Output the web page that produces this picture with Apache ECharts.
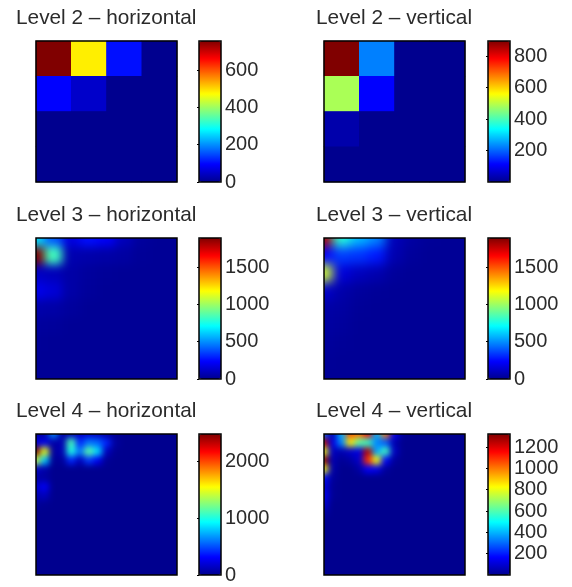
<!DOCTYPE html>
<html>
<head>
<meta charset="utf-8">
<style>
html, body { margin: 0; padding: 0; background: #fff; }
#wrap { position: relative; width: 572px; height: 587px; overflow: hidden; }
#main { position: absolute; left: 0; top: 0; width: 572px; height: 587px; }
.clip { position: absolute; overflow: hidden; }
.soft { position: absolute; }
</style>
<script src="https://cdn.jsdelivr.net/npm/echarts@6/dist/echarts.min.js"></script>
</head>
<body>
<div id="wrap"><div id="main"></div></div>
<script>
var titles = ['Level 2 – horizontal', 'Level 2 – vertical', 'Level 3 – horizontal', 'Level 3 – vertical', 'Level 4 – horizontal', 'Level 4 – vertical'];
var maxValues = [757, 896, 1892, 1892, 2478, 1323];
var tickLists = [
    [0, 200, 400, 600],
    [200, 400, 600, 800],
    [0, 500, 1000, 1500],
    [0, 500, 1000, 1500],
    [0, 1000, 2000],
    [200, 400, 600, 800, 1000, 1200]
];
var jet = ['#00008f', '#0000ff', '#0080ff', '#00ffff', '#80ff80', '#ffff00', '#ff8000', '#ff0000', '#800000'];
var jetLow = '#00008f';

var level2H = [
    [757, 485, 105, 0],
    [95, 50, 0, 0],
    [0, 0, 0, 0],
    [0, 0, 0, 0]
];
var level2V = [
    [896, 224, 0, 0],
    [485, 112, 0, 0],
    [28, 0, 0, 0],
    [0, 0, 0, 0]
];
var level3H = [
    [650, 400, 170, 260, 220, 90, 30, 15, 15],
    [1950, 830, 70, 60, 50, 40, 20, 15, 15],
    [110, 90, 50, 30, 20, 15, 15, 15, 15],
    [190, 150, 50, 25, 15, 15, 15, 15, 15],
    [60, 50, 30, 15, 15, 15, 15, 15, 15],
    [30, 25, 15, 15, 15, 15, 15, 15, 15],
    [20, 15, 15, 15, 15, 15, 15, 15, 15],
    [15, 15, 15, 15, 15, 15, 15, 15, 15],
    [15, 15, 15, 15, 15, 15, 15, 15, 15]
];
var level3V = [
    [1800, 780, 580, 480, 90, 40, 20, 15, 15],
    [240, 350, 330, 280, 70, 25, 15, 15, 15],
    [1100, 160, 100, 70, 25, 15, 15, 15, 15],
    [130, 60, 30, 20, 15, 15, 15, 15, 15],
    [50, 40, 20, 15, 15, 15, 15, 15, 15],
    [40, 30, 15, 15, 15, 15, 15, 15, 15],
    [30, 20, 15, 15, 15, 15, 15, 15, 15],
    [20, 15, 15, 15, 15, 15, 15, 15, 15],
    [15, 15, 15, 15, 15, 15, 15, 15, 15]
];
var level4H = [
    [60, 60, 650, 60, 120, 150, 180, 140, 60, 10, 0, 0, 0, 0, 0, 0, 0],
    [200, 250, 60, 100, 1100, 400, 600, 560, 400, 50, 0, 0, 0, 0, 0, 0, 0],
    [2500, 1500, 50, 100, 1000, 600, 1150, 850, 140, 10, 0, 0, 0, 0, 0, 0, 0],
    [1400, 800, 20, 30, 400, 120, 450, 280, 20, 0, 0, 0, 0, 0, 0, 0, 0],
    [150, 80, 0, 0, 0, 0, 0, 0, 0, 0, 0, 0, 0, 0, 0, 0, 0],
    [60, 50, 0, 0, 0, 0, 0, 0, 0, 0, 0, 0, 0, 0, 0, 0, 0],
    [170, 280, 0, 0, 0, 0, 0, 0, 0, 0, 0, 0, 0, 0, 0, 0, 0],
    [90, 130, 0, 0, 0, 0, 0, 0, 0, 0, 0, 0, 0, 0, 0, 0, 0],
    [30, 10, 0, 0, 0, 0, 0, 0, 0, 0, 0, 0, 0, 0, 0, 0, 0],
    [0, 0, 0, 0, 0, 0, 0, 0, 0, 0, 0, 0, 0, 0, 0, 0, 0],
    [0, 0, 0, 0, 0, 0, 0, 0, 0, 0, 0, 0, 0, 0, 0, 0, 0],
    [0, 0, 0, 0, 0, 0, 0, 0, 0, 0, 0, 0, 0, 0, 0, 0, 0],
    [0, 0, 0, 0, 0, 0, 0, 0, 0, 0, 0, 0, 0, 0, 0, 0, 0],
    [0, 0, 0, 0, 0, 0, 0, 0, 0, 0, 0, 0, 0, 0, 0, 0, 0],
    [0, 0, 0, 0, 0, 0, 0, 0, 0, 0, 0, 0, 0, 0, 0, 0, 0],
    [0, 0, 0, 0, 0, 0, 0, 0, 0, 0, 0, 0, 0, 0, 0, 0, 0],
    [0, 0, 0, 0, 0, 0, 0, 0, 0, 0, 0, 0, 0, 0, 0, 0, 0]
];
var level4V = [
    [300, 60, 400, 1050, 1000, 1150, 400, 1000, 150, 10, 0, 0, 0, 0, 0, 0, 0],
    [1250, 120, 340, 850, 620, 560, 340, 280, 50, 0, 0, 0, 0, 0, 0, 0, 0],
    [800, 70, 50, 90, 120, 1250, 380, 580, 80, 0, 0, 0, 0, 0, 0, 0, 0],
    [1300, 50, 10, 30, 90, 1100, 820, 170, 20, 0, 0, 0, 0, 0, 0, 0, 0],
    [820, 40, 0, 0, 30, 160, 140, 20, 0, 0, 0, 0, 0, 0, 0, 0, 0],
    [180, 20, 0, 0, 0, 0, 0, 0, 0, 0, 0, 0, 0, 0, 0, 0, 0],
    [120, 10, 0, 0, 0, 0, 0, 0, 0, 0, 0, 0, 0, 0, 0, 0, 0],
    [150, 10, 0, 0, 0, 0, 0, 0, 0, 0, 0, 0, 0, 0, 0, 0, 0],
    [100, 0, 0, 0, 0, 0, 0, 0, 0, 0, 0, 0, 0, 0, 0, 0, 0],
    [30, 0, 0, 0, 0, 0, 0, 0, 0, 0, 0, 0, 0, 0, 0, 0, 0],
    [0, 0, 0, 0, 0, 0, 0, 0, 0, 0, 0, 0, 0, 0, 0, 0, 0],
    [0, 0, 0, 0, 0, 0, 0, 0, 0, 0, 0, 0, 0, 0, 0, 0, 0],
    [0, 0, 0, 0, 0, 0, 0, 0, 0, 0, 0, 0, 0, 0, 0, 0, 0],
    [0, 0, 0, 0, 0, 0, 0, 0, 0, 0, 0, 0, 0, 0, 0, 0, 0],
    [0, 0, 0, 0, 0, 0, 0, 0, 0, 0, 0, 0, 0, 0, 0, 0, 0],
    [0, 0, 0, 0, 0, 0, 0, 0, 0, 0, 0, 0, 0, 0, 0, 0, 0],
    [0, 0, 0, 0, 0, 0, 0, 0, 0, 0, 0, 0, 0, 0, 0, 0, 0]
];

var panelX = [36, 324];
var barX = [199, 488];
var rowY = [41, 238, 434];
var titleX = [16, 316];
var panelSize = 141;
var barWidth = 22;
var fontName = '"Liberation Sans", Arial, sans-serif';

function indexList(n) {
    var out = [];
    for (var i = 0; i < n; i++) out.push(String(i));
    return out;
}

function cells(rows) {
    var out = [];
    for (var j = 0; j < rows.length; j++) {
        for (var i = 0; i < rows[j].length; i++) {
            out.push([i, j, rows[j][i]]);
        }
    }
    return out;
}

// levels 3 and 4 are smoothed images: draw the heatmap, blur its layer, clip to the frame
function softLayer(rows, maxValue, x, y, blur) {
    var n = rows.length;
    var pitch = panelSize / (n - 1);

    // repeat the edge cells so the blur does not pull the border to another colour
    var padded = [];
    for (var j = -2; j < n + 2; j++) {
        var src = rows[Math.min(n - 1, Math.max(0, j))];
        padded.push([src[0], src[0]].concat(src, [src[n - 1], src[n - 1]]));
    }

    var clip = document.createElement('div');
    clip.className = 'clip';
    clip.style.cssText = 'left:' + x + 'px;top:' + y + 'px;width:' + panelSize + 'px;height:' + panelSize + 'px;';
    var soft = document.createElement('div');
    soft.className = 'soft';
    var outer = 2.5 * pitch;
    var full = panelSize + 2 * outer;
    soft.style.cssText = 'left:' + (-outer) + 'px;top:' + (-outer) + 'px;width:' + full + 'px;height:' + full
        + 'px;filter:blur(' + blur + 'px);';
    clip.appendChild(soft);
    document.getElementById('wrap').insertBefore(clip, document.getElementById('main'));

    var chart = echarts.init(soft, null, {renderer: 'canvas'});
    chart.setOption({
        animation: false,
        backgroundColor: jetLow,
        grid: {left: 0, right: 0, top: 0, bottom: 0},
        xAxis: {type: 'category', show: false, data: indexList(n + 4)},
        yAxis: {type: 'category', show: false, inverse: true, data: indexList(n + 4)},
        visualMap: {show: false, min: 0, max: maxValue, inRange: {color: jet}},
        series: [{type: 'heatmap', data: cells(padded), progressive: 0, itemStyle: {borderWidth: 0}}]
    });
}

var grids = [], xAxes = [], yAxes = [], visuals = [], series = [], titleList = [];

function addCategoryGrid(gridOption) {
    grids.push(gridOption);
    var idx = grids.length - 1;
    xAxes.push({gridIndex: idx, type: 'category', show: false, data: indexList(4)});
    yAxes.push({gridIndex: idx, type: 'category', show: false, inverse: true, data: indexList(4)});
    return idx;
}

for (var p = 0; p < 6; p++) {
    var col = p % 2;
    var row = Math.floor(p / 2);
    var px = panelX[col], py = rowY[row];

    titleList.push({
        text: titles[p],
        left: titleX[col],
        top: py - 33,
        padding: 0,
        textStyle: {fontFamily: fontName, fontSize: 20.8, fontWeight: 'normal', color: '#2b2b2b'}
    });

    // level 2 cells sit on a navy backing, the frame is a second grid above them
    var panelIdx = addCategoryGrid({left: px, top: py, width: panelSize, height: panelSize, show: row === 0,
        borderWidth: 0, backgroundColor: jetLow});
    addCategoryGrid({left: px, top: py, width: panelSize, height: panelSize, show: true, z: 5,
        borderColor: '#000', borderWidth: 1.5, backgroundColor: 'transparent'});

    // colour bar: visualMap gradient with a value axis on top of it
    grids.push({left: barX[col], top: py, width: barWidth, height: panelSize, show: true, z: 5,
        borderColor: '#000', borderWidth: 1.5, backgroundColor: 'transparent'});
    var barIdx = grids.length - 1;
    xAxes.push({gridIndex: barIdx, type: 'value', show: false});
    yAxes.push({gridIndex: barIdx, type: 'value', position: 'right', min: 0, max: maxValues[p],
        splitLine: {show: false},
        axisLine: {show: false},
        axisTick: {show: true, inside: true, length: 2, customValues: tickLists[p], lineStyle: {color: '#000', width: 1}},
        axisLabel: {margin: 4, customValues: tickLists[p], fontFamily: fontName, fontSize: 20, color: '#2b2b2b',
            formatter: function (v) { return String(v); }}
    });

    var data = [];
    if (row === 0) data = cells(p === 0 ? level2H : level2V);
    series.push({type: 'heatmap', xAxisIndex: panelIdx, yAxisIndex: panelIdx, data: data, progressive: 0});
    visuals.push({
        type: 'continuous', seriesIndex: p, min: 0, max: maxValues[p], calculable: false, realtime: false,
        left: barX[col], top: py, itemWidth: barWidth, itemHeight: panelSize, padding: 0,
        showLabel: false, text: null, hoverLink: false,
        inRange: {color: jet}
    });
}

softLayer(level3H, maxValues[2], panelX[0], rowY[1], 5);
softLayer(level3V, maxValues[3], panelX[1], rowY[1], 5.5);
softLayer(level4H, maxValues[4], panelX[0], rowY[2], 3.4);
softLayer(level4V, maxValues[5], panelX[1], rowY[2], 3.4);

var myChart = echarts.init(document.getElementById('main'));
myChart.setOption({
    animation: false,
    backgroundColor: 'transparent',
    title: titleList,
    grid: grids,
    xAxis: xAxes,
    yAxis: yAxes,
    visualMap: visuals,
    series: series
});
</script>
</body>
</html>
